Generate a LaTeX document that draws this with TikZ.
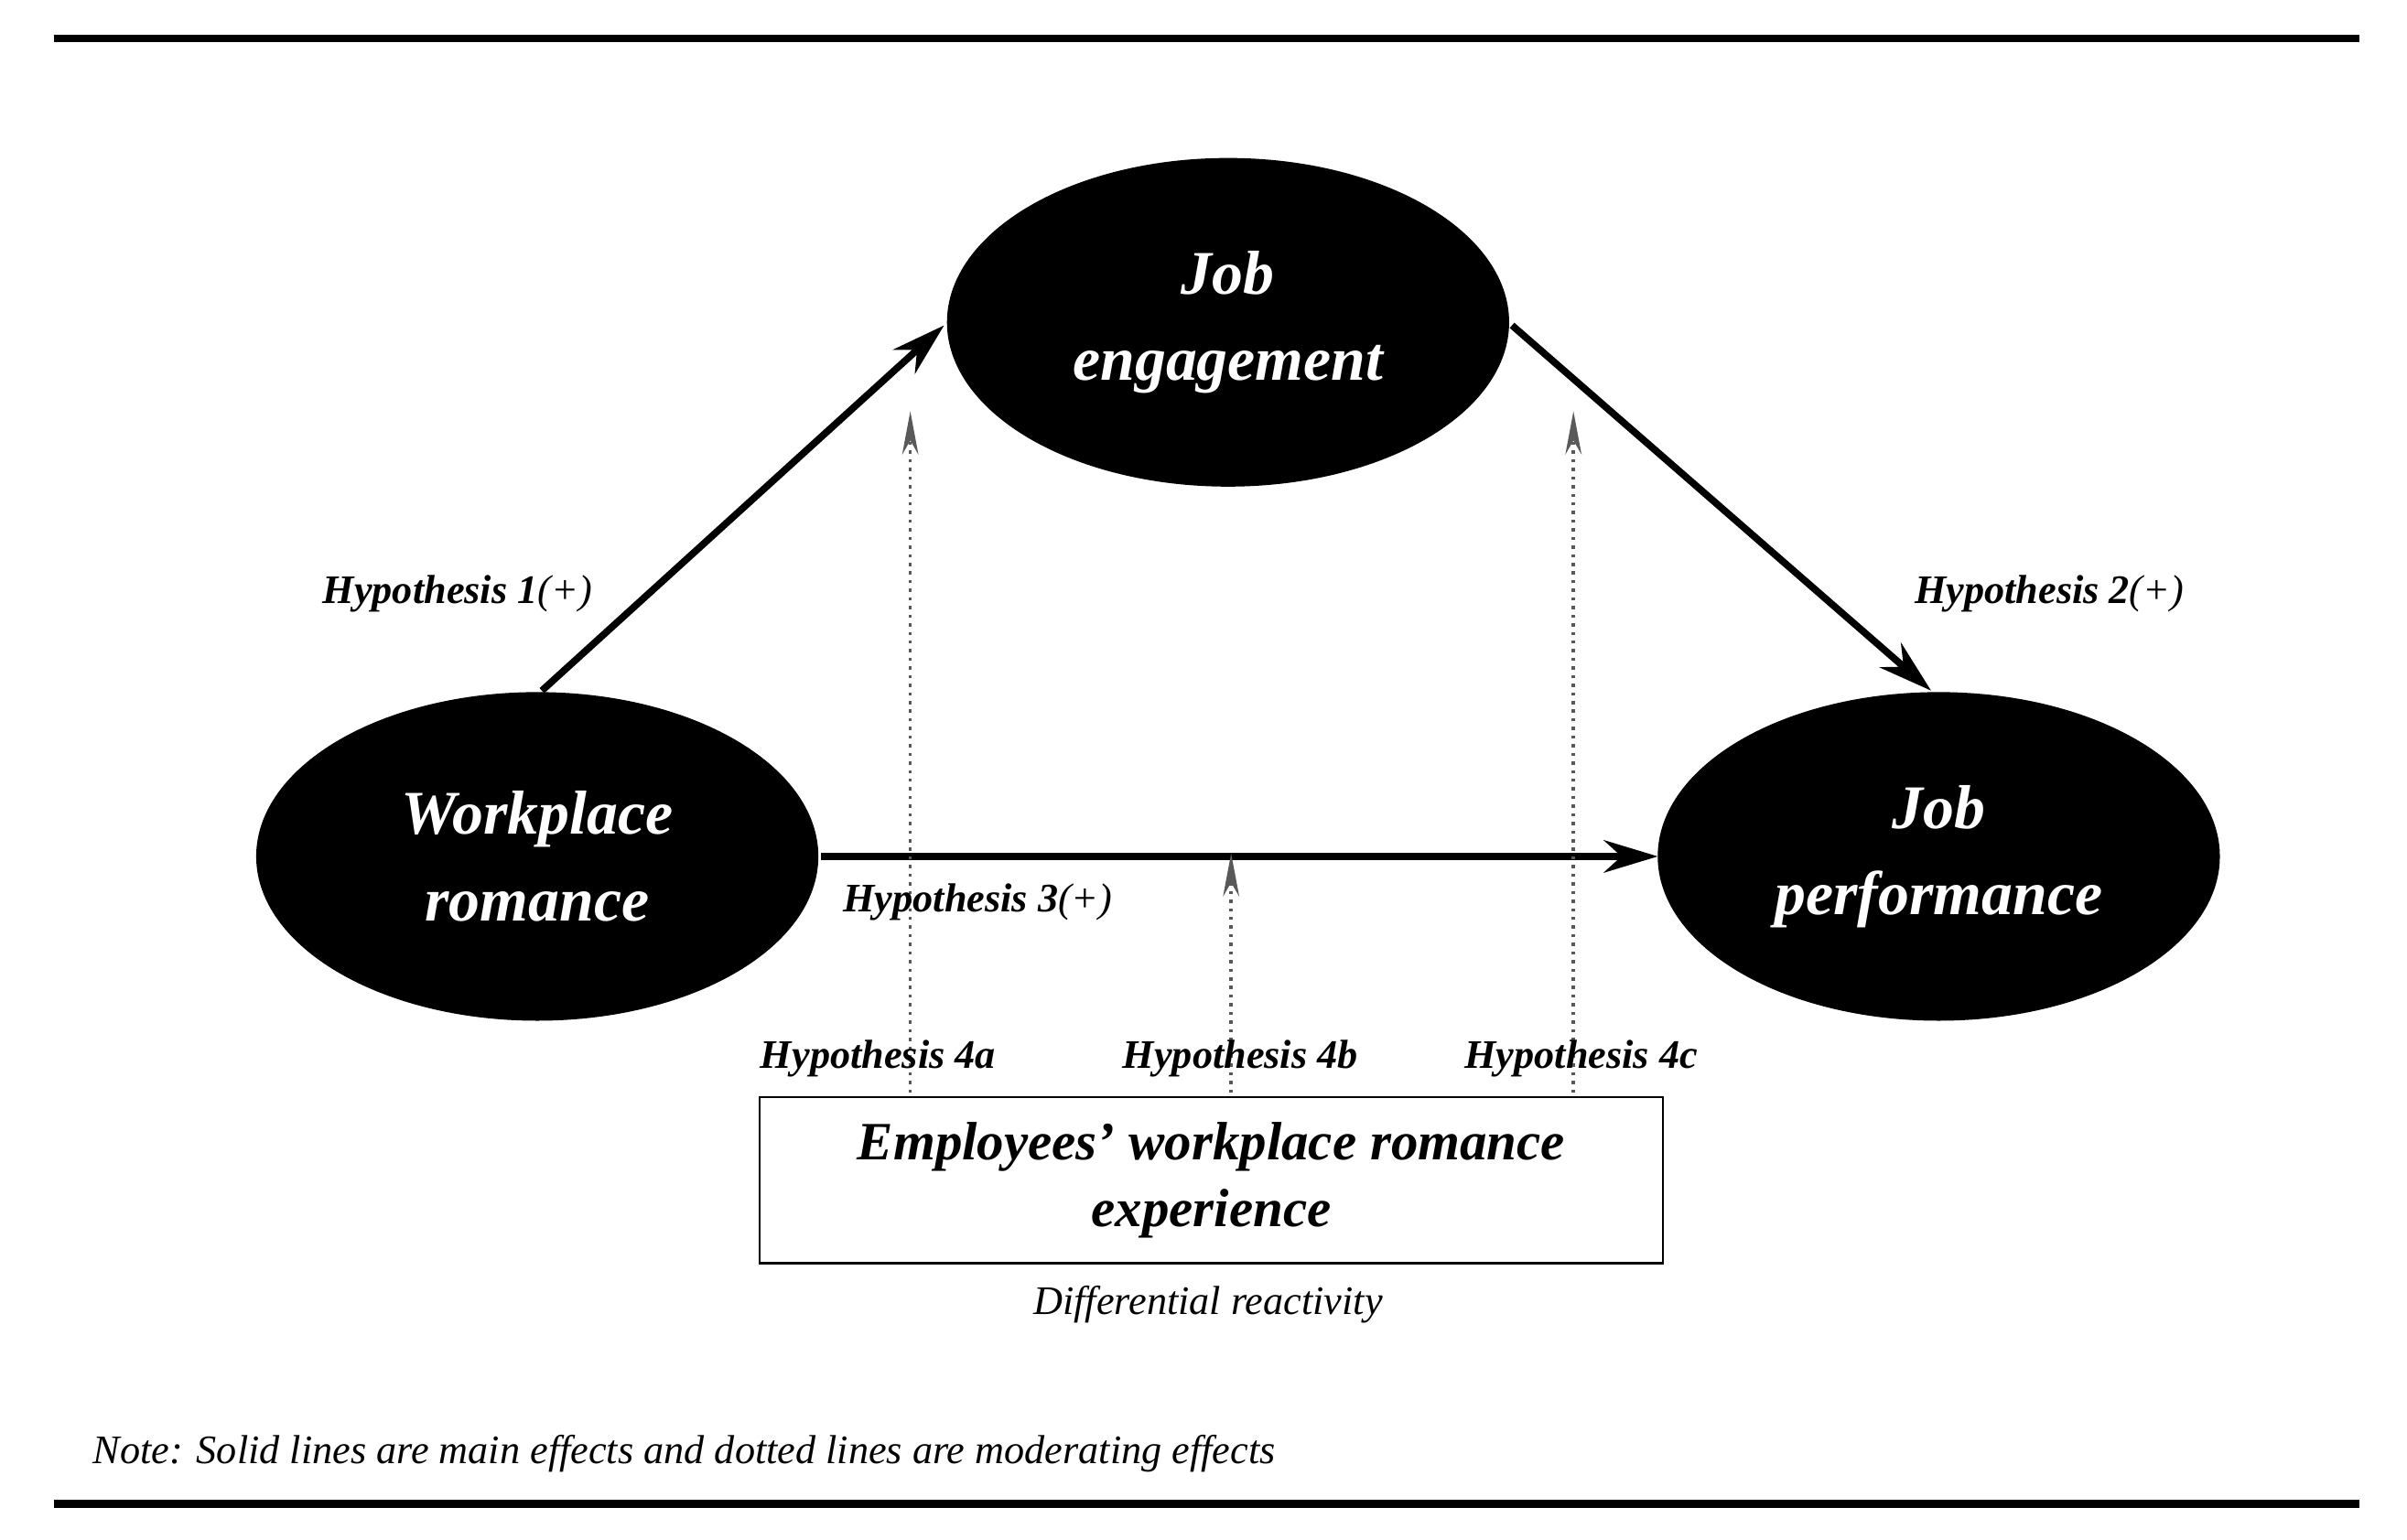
\documentclass[tikz,border=0pt]{standalone}
\usepackage{fontspec}
\setmainfont{Liberation Serif}
\usetikzlibrary{shapes.geometric,arrows.meta}
\begin{document}
\begin{tikzpicture}[x=0.01cm,y=-0.01cm,
  ell/.style={ellipse,fill=black,minimum width=3.66cm,minimum height=2.14cm,inner sep=0,text=white,font=\fontsize{11.5}{14}\selectfont\bfseries\itshape,align=center},
  main/.style={-{Stealth[length=10pt,width=6pt]},line width=1.3pt},
  mod/.style={-{Stealth[length=8pt,width=3pt]},densely dotted,gray!70!black,line width=0.6pt},
  hyp/.style={font=\fontsize{7.5}{9}\selectfont\bfseries\itshape},
  rule/.style={line width=1.5pt}]
\useasboundingbox (0,0) rectangle (1568,1003);
\draw[rule] (35,25) -- (1537,25);
\draw[rule] (35,980) -- (1537,980);
\node[ell] (je) at (800,210) {Job\\[2pt]engagement};
\node[ell] (wr) at (350,558) {Workplace\\[2pt]romance};
\node[ell] (jp) at (1263,558) {Job\\[2pt]performance};
\node[draw,minimum width=5.88cm,minimum height=1.08cm,inner sep=0,align=center,font=\fontsize{10}{12.5}\selectfont\bfseries\itshape] (box) at (789,769) {Employees' workplace romance\\experience};
\coordinate (a1) at (353,450); \coordinate (a2) at (615,212);
\coordinate (b1) at (985,212); \coordinate (b2) at (1258,450);
\coordinate (c1) at (535,558); \coordinate (c2) at (1080,558);
\draw[main] (a1) -- (a2);
\draw[main] (b1) -- (b2);
\draw[main] (c1) -- (c2);
\coordinate (m1) at (593,712); \coordinate (m1e) at (593,268);
\coordinate (m2) at (802,712); \coordinate (m2e) at (802,556);
\coordinate (m3) at (1025,712); \coordinate (m3e) at (1025,268);
\draw[mod] (m1) -- (m1e);
\draw[mod] (m2) -- (m2e);
\draw[mod] (m3) -- (m3e);
\node[hyp] (h1) at (298,387) {Hypothesis 1\textmd{(+)}};
\node[hyp] (h2) at (1335,387) {Hypothesis 2\textmd{(+)}};
\node[hyp] (h3) at (637,588) {Hypothesis 3\textmd{(+)}};
\node[hyp] (h4a) at (572,690) {Hypothesis 4a};
\node[hyp] (h4b) at (808,690) {Hypothesis 4b};
\node[hyp] (h4c) at (1030,690) {Hypothesis 4c};
\node[font=\fontsize{7.5}{9}\selectfont\itshape] (dr) at (787,850) {Differential reactivity};
\node[anchor=west,inner sep=0,font=\fontsize{7.5}{9}\selectfont\itshape] (note) at (60,947) {Note: Solid lines are main effects and dotted lines are moderating effects};
\end{tikzpicture}
\end{document}
